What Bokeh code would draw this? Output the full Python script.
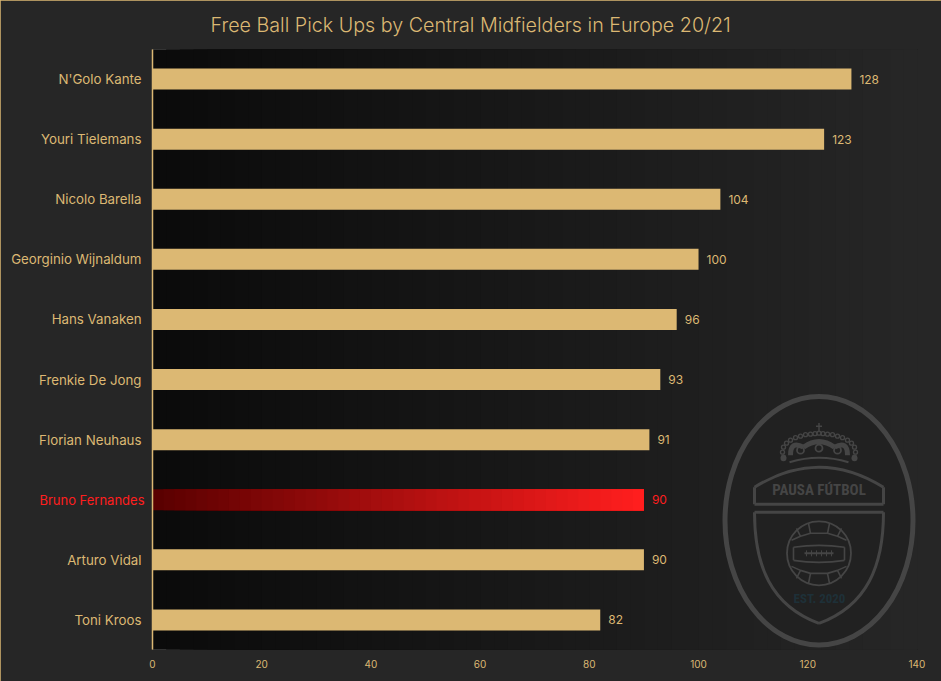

import numpy as np
from bokeh.plotting import figure
from bokeh.models import ColumnDataSource, Range1d, LabelSet, FixedTicker, LinearAxis
from bokeh.core.properties import value
from bokeh.embed import file_html
from bokeh.resources import INLINE

players = ["N'Golo Kante", "Youri Tielemans", "Nicolo Barella", "Georginio Wijnaldum", "Hans Vanaken",
           "Frenkie De Jong", "Florian Neuhaus", "Bruno Fernandes", "Arturo Vidal", "Toni Kroos"]
values = [128, 123, 104, 100, 96, 93, 91, 90, 90, 82]
highlight = "Bruno Fernandes"
x_ticks = [0, 20, 40, 60, 80, 100, 120, 140]
title = "Free Ball Pick Ups by Central Midfielders in Europe 20/21"

GOLD = "#dcb873"
BG = "#262626"
RED = "#ff1e1e"
LOGO = "#454545"
LABEL_FONT = "Inter"
NARROW = value("Roboto Condensed, Liberation Sans Narrow, DejaVu Sans Condensed, DejaVu Sans")


def mix(a, b, t):
    return "#%02x%02x%02x" % tuple(int(round(a[i] + (b[i] - a[i]) * t)) for i in range(3))


rows = list(range(len(players)))
p = figure(width=941, height=681, output_backend="svg", toolbar_location=None,
           y_range=Range1d(9.4917, -0.4917),
           x_range=Range1d(0, 140.1),
           min_border_left=152, min_border_right=24, min_border_top=49, min_border_bottom=32,
           background_fill_color=BG, border_fill_color=BG, outline_line_color=None,
           styles={"position": "absolute", "left": "0", "top": "0",
                   "outline": f"1px solid {GOLD}", "outline-offset": "-1px"})
p.grid.visible = False
p.extra_x_ranges["px"] = Range1d(152, 917)
p.extra_y_ranges["py"] = Range1d(649, 50)
kw = dict(x_range_name="px", y_range_name="py")

p.title.text = title
p.title.text_color = GOLD
p.title.text_font = "Inter Light, Inter"
p.title.text_font_size = "19.7px"
p.title.text_font_style = "normal"
p.title.align = "left"
p.title.offset = 58
p.title.standoff = 23
p.title.vertical_align = "middle"

# frame gradient background (style only); each step overruns the frame so no seams show
edges = np.linspace(152, 917, 57)
p.quad(left=edges[:-1], right=930, bottom=660, top=40,
       fill_color=[mix((11, 11, 11), (38, 38, 38), t) for t in np.linspace(0, 1, 56)],
       line_color=None, **kw)

# bars
hi = players.index(highlight)
rows_other = [r for r in rows if r != hi]
vals_other = [values[r] for r in rows_other]
p.hbar(y=rows_other, right=vals_other, left=0, height=0.35, fill_color=GOLD, line_color=None)
seg = np.linspace(0, values[hi], 46)[:-1]
p.hbar(y=[hi] * 45, left=seg, right=values[hi], height=0.35,
       fill_color=[mix((90, 0, 0), (255, 30, 30), t) for t in np.linspace(0, 1, 45)], line_color=None)

# value labels
val_src = ColumnDataSource(dict(y=rows, x=values, t=[str(v) for v in values],
                                c=[RED if n == highlight else GOLD for n in players]))
p.add_layout(LabelSet(x="x", y="y", text="t", source=val_src, x_offset=8, text_color="c",
                      text_font=value(LABEL_FONT), text_font_size="12px", text_baseline="middle"))

# axes
p.yaxis.ticker = FixedTicker(ticks=rows_other)
p.yaxis.major_label_overrides = {r: players[r] for r in rows_other}
p.yaxis.major_label_text_color = GOLD
p.yaxis.major_label_text_font = LABEL_FONT
p.yaxis.major_label_text_font_size = "13.3px"
p.yaxis.major_label_standoff = 11
p.yaxis.major_tick_in = 0
p.yaxis.major_tick_out = 0
p.yaxis.major_tick_line_color = None
p.yaxis.minor_tick_line_color = None
p.yaxis.axis_line_color = GOLD
p.yaxis.axis_line_width = 1.5
hl_axis = LinearAxis(ticker=FixedTicker(ticks=[hi]), major_label_overrides={hi: highlight},
                     major_label_text_color=RED, major_label_text_font=LABEL_FONT,
                     major_label_text_font_size="13px", major_label_standoff=-136,
                     major_tick_in=0, major_tick_out=0,
                     major_tick_line_color=None, minor_tick_line_color=None, axis_line_color=None)
p.add_layout(hl_axis, "left")
p.xaxis.ticker = FixedTicker(ticks=x_ticks)
p.xaxis.axis_line_color = None
p.xaxis.major_tick_in = 0
p.xaxis.major_tick_out = 0
p.xaxis.major_tick_line_color = None
p.xaxis.minor_tick_line_color = None
p.xaxis.major_label_text_color = GOLD
p.xaxis.major_label_text_font = LABEL_FONT
p.xaxis.major_label_text_font_size = "10px"
p.xaxis.major_label_standoff = 10

# logo (decoration, page-pixel ranges)
lc = LOGO
p.ellipse(x=818.5, y=520.5, width=188, height=248, fill_color="#212121", line_color=lc, line_width=5, **kw)
# upper plate
p.line([754, 754], [504, 487], line_color=lc, line_width=3, **kw)
p.line([883, 883], [504, 487], line_color=lc, line_width=3, **kw)
p.line([754, 883], [504, 504], line_color=lc, line_width=3, **kw)
p.quadratic(x0=[754], y0=[487], x1=[883], y1=[487], cx=[818.5], cy=[447], line_color=lc, line_width=3, **kw)
p.text(x=[818.5], y=[490], text=["PAUSA FÚTBOL"], text_align="center", text_baseline="middle",
       text_color=lc, text_font=NARROW, text_font_style="bold", text_font_size="15px", **kw)
# lower shield
p.line([754, 883], [512, 512], line_color=lc, line_width=3, **kw)
p.bezier(x0=[754, 883], y0=[512, 512], x1=[818.5, 818.5], y1=[623, 623],
         cx0=[754, 883], cy0=[565, 565], cx1=[770, 867], cy1=[605, 605], line_color=lc, line_width=3, **kw)
p.text(x=[819], y=[598], text=["EST. 2020"], text_align="center", text_baseline="middle",
       text_color="#1e3038", text_font=NARROW, text_font_style="bold", text_font_size="13px", **kw)
# ball
p.circle(x=[818.5], y=[553], radius=32, fill_color=None, line_color=lc, line_width=1.8, **kw)
p.quadratic(x0=[793, 793], y0=[547, 560], x1=[844, 844], y1=[547, 560], cx=[818.5, 818.5], cy=[543, 564],
            line_color=lc, line_width=1.6, **kw)
p.line([793, 793], [547, 560], line_color=lc, line_width=1.6, **kw)
p.line([844, 844], [547, 560], line_color=lc, line_width=1.6, **kw)
p.line([804, 833], [553, 553], line_color=lc, line_width=2, **kw)
p.segment(x0=[806, 811, 816, 821, 826, 831], y0=[550] * 6, x1=[806, 811, 816, 821, 826, 831], y1=[556] * 6,
          line_color=lc, line_width=1, **kw)
for s in (-1, 1):
    p.multi_line(xs=[[791, 800, 810, 827, 837, 846], [810, 808], [827, 829], [800, 796], [837, 841]],
                 ys=[[553 + s * 13, 553 + s * 17, 553 + s * 20, 553 + s * 20, 553 + s * 17, 553 + s * 13],
                     [553 + s * 20, 553 + s * 30], [553 + s * 20, 553 + s * 30],
                     [553 + s * 17, 553 + s * 25], [553 + s * 17, 553 + s * 25]],
                 line_color=lc, line_width=1.6, **kw)
# crown
crown_x = [783, 782, 783, 786, 790, 795, 800, 805, 810, 814.5, 818.5, 822.5, 827, 832, 837, 842, 847, 851, 854, 855, 854]
crown_y = [457, 452, 447, 443, 440, 437.5, 436, 434.5, 434, 433.5, 433, 433.5, 434, 434.5, 436, 437.5, 440, 443, 447, 452, 457]
p.circle(x=crown_x, y=crown_y, radius=2, fill_color=None, line_color=lc, line_width=1.4, **kw)
p.circle(x=[783, 854], y=[458, 458], radius=3, fill_color=lc, line_color=None, **kw)
p.circle(x=[800, 818.5, 837], y=[450, 448, 450], radius=3.5, fill_color=None, line_color=lc, line_width=1.8, **kw)
p.quadratic(x0=[790, 803, 834], y0=[455, 447, 447], x1=[803, 834, 847], y1=[447, 447, 455],
            cx=[790, 818.5, 847], cy=[440, 436, 440], line_color=lc, line_width=5, **kw)
p.quadratic(x0=[789], y0=[462], x1=[848], y1=[462], cx=[818.5], cy=[453], line_color=lc, line_width=2, **kw)
p.segment(x0=[818.5, 815.5], y0=[423, 426], x1=[818.5, 821.5], y1=[432, 426], line_color=lc, line_width=1.5, **kw)

open("out.html", "w").write(file_html(p, INLINE))
